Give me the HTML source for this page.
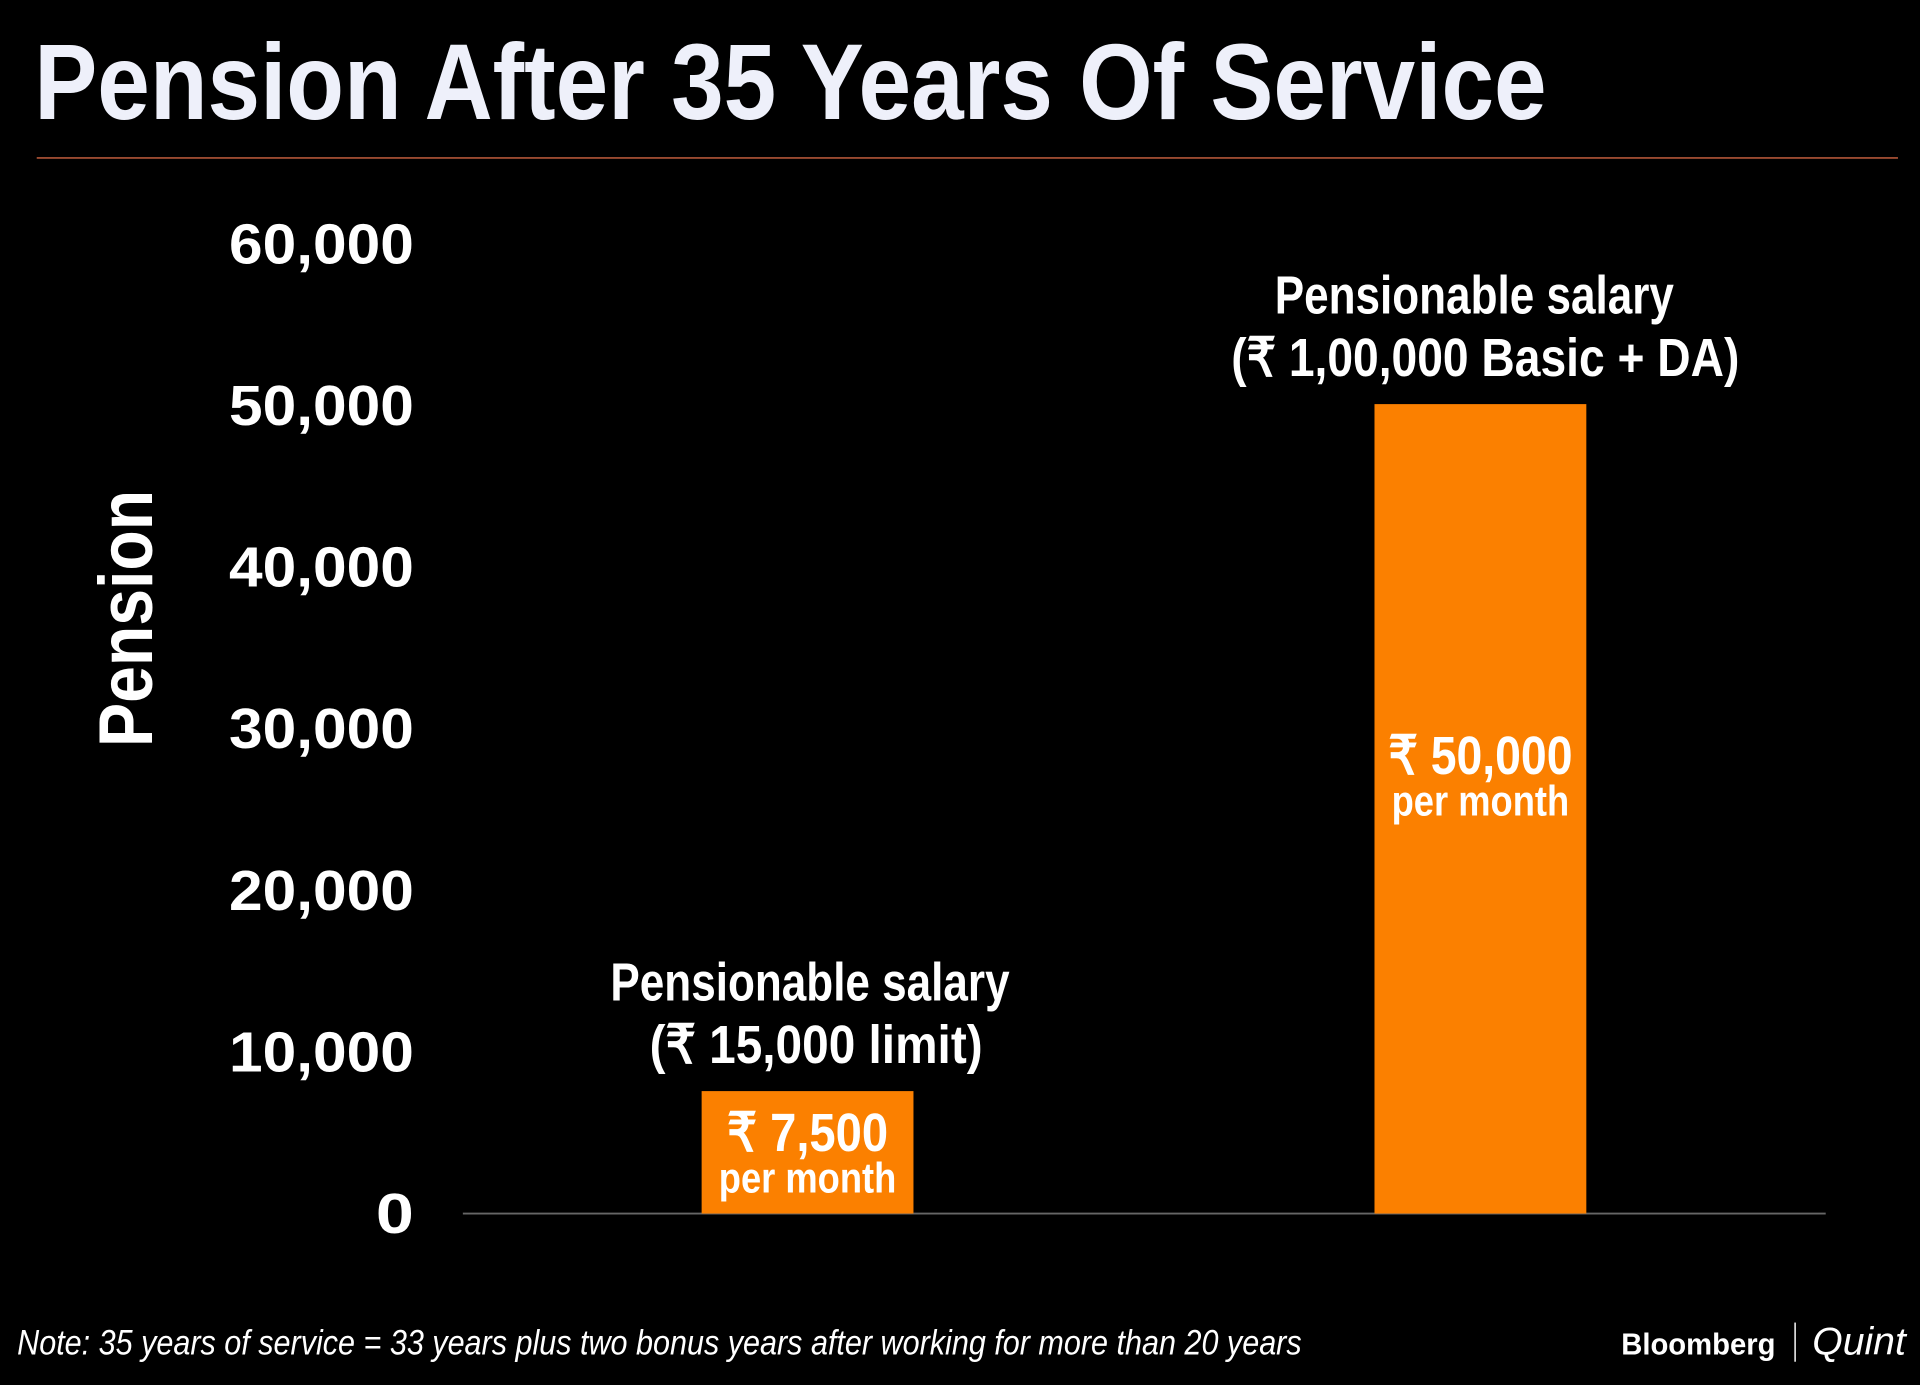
<!DOCTYPE html>
<html><head><meta charset="utf-8"><style>
html,body{margin:0;padding:0;background:#000;}
svg{display:block;}
text{font-family:"Liberation Sans Narrow","Liberation Sans",sans-serif;}
</style></head><body>
<svg id="chart" width="1920" height="1385" viewBox="0 0 1568 1131" preserveAspectRatio="none" xmlns="http://www.w3.org/2000/svg">
<rect width="1568" height="1131" fill="#000"/>
<text x="28" y="97" font-size="88" font-weight="bold" fill="#eef0fa" textLength="1235" lengthAdjust="spacingAndGlyphs">Pension After 35 Years Of Service</text>
<line x1="30" y1="129" x2="1550" y2="129" stroke="#9a4a30" stroke-width="1.5"/>
<text transform="translate(124,505) rotate(-90)" text-anchor="middle" font-size="62" font-weight="bold" fill="#fff" textLength="210" lengthAdjust="spacingAndGlyphs">Pension</text>
<g id="yticks"></g>
<line x1="378" y1="991" x2="1491" y2="991" stroke="#666" stroke-width="1.5"/>
<g id="bars"></g>
<text x="14" y="1106" font-size="29" font-style="italic" fill="#fff" textLength="1049" lengthAdjust="spacingAndGlyphs">Note: 35 years of service = 33 years plus two bonus years after working for more than 20 years</text>
<text x="1324" y="1106" font-size="25" font-weight="bold" fill="#fff" font-family="Liberation Sans" textLength="126" lengthAdjust="spacingAndGlyphs">Bloomberg</text>
<line x1="1466" y1="1080" x2="1466" y2="1112" stroke="#fff" stroke-width="1.2"/>
<text x="1480" y="1106" font-size="32" font-style="italic" fill="#fff" font-family="Liberation Serif">Quint</text>
</svg>
<script>
const ticks = [0, 10000, 20000, 30000, 40000, 50000, 60000];
const tickLabels = ["0", "10,000", "20,000", "30,000", "40,000", "50,000", "60,000"];
const categories = ["Pensionable salary|(₹ 15,000 limit)", "Pensionable salary|(₹ 1,00,000 Basic + DA)"];
const values = [7500, 50000];
const valueLabels = ["₹ 7,500", "₹ 50,000"];

const NS = "http://www.w3.org/2000/svg";
const y0 = 990, yTop = 198, vMax = 60000;
function y(v){ return y0 - (v / vMax) * (y0 - yTop); }
const xCenters = [659.5, 1209];
const barW = 173;
const subW = [272, 415];
function mk(tag, attrs, txt){
  const e = document.createElementNS(NS, tag);
  for (const k in attrs) e.setAttribute(k, attrs[k]);
  if (txt !== undefined) e.textContent = txt;
  return e;
}
const tickW = {1:31, 6:151};
const yg = document.getElementById('yticks');
ticks.forEach((t, i) => {
  const len = tickLabels[i].length;
  const el = mk('text', {x: 338, y: y(t) + 17, 'text-anchor': 'end', 'font-size': 46, 'font-weight': 'bold', fill: '#fff', 'font-family': 'Liberation Sans', textLength: tickW[len] || 151, lengthAdjust: 'spacingAndGlyphs'}, tickLabels[i]);
  
  
  yg.appendChild(el);
});
const bg = document.getElementById('bars');
values.forEach((v, i) => {
  const cx = xCenters[i];
  const top = y(v);
  const r = mk('rect', {x: cx - barW/2, y: top, width: barW, height: y0 - top + 1, fill: '#fb8000'});
  
  
  bg.appendChild(r);
  const inside = v > 20000;
  const vy = inside ? (top + (y0 - top) / 2 - 28) : (top + 49);
  const vl = mk('text', {x: cx, y: vy, 'text-anchor': 'middle', 'font-size': 44, 'font-weight': 'bold', fill: '#fff', textLength: valueLabels[i].length * 18.8, lengthAdjust: 'spacingAndGlyphs'}, valueLabels[i]);
  
  
  bg.appendChild(vl);
  const pm = mk('text', {x: cx, y: vy + 34, 'text-anchor': 'middle', 'font-size': 35, 'font-weight': 'bold', fill: '#fff', textLength: 145, lengthAdjust: 'spacingAndGlyphs'}, 'per month');
  
  
  bg.appendChild(pm);
  const lines = categories[i].split('|');
  const c1 = mk('text', {x: cx + 2 - i * 7, y: top - 74, 'text-anchor': 'middle', 'font-size': 44, 'font-weight': 'bold', fill: '#fff', textLength: 326, lengthAdjust: 'spacingAndGlyphs'}, lines[0]);
  
  
  bg.appendChild(c1);
  const c2 = mk('text', {x: cx + 7 - i * 3, y: top - 23, 'text-anchor': 'middle', 'font-size': 44, 'font-weight': 'bold', fill: '#fff', textLength: subW[i], lengthAdjust: 'spacingAndGlyphs'}, lines[1]);
  
  
  bg.appendChild(c2);
});
</script>
</body></html>
